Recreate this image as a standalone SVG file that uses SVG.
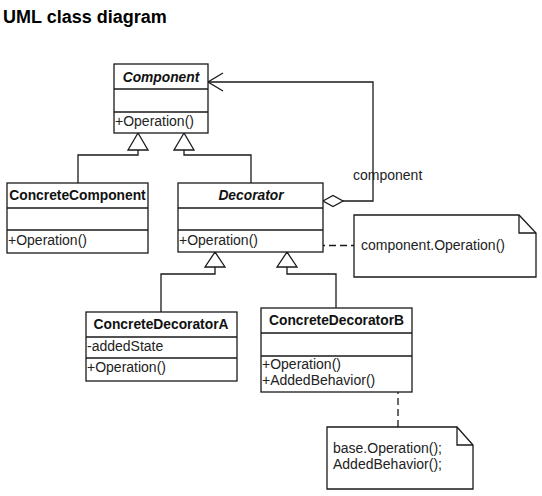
<svg xmlns="http://www.w3.org/2000/svg" width="542" height="496" viewBox="0 0 542 496">
<style>
.box{fill:#fff;stroke:#1a1a1a;stroke-width:1.3}
.ln{fill:none;stroke:#1a1a1a;stroke-width:1.3}
.dash{fill:none;stroke:#1a1a1a;stroke-width:1.3;stroke-dasharray:7 4}
.tri{fill:#fff;stroke:#1a1a1a;stroke-width:1.3}
.name{font-family:"Liberation Sans",Arial,sans-serif;font-weight:bold;font-size:13.8px;fill:#111;text-anchor:middle}
.abs{font-style:italic}
.t{font-family:"Liberation Sans",Arial,sans-serif;font-size:14px;fill:#222}
.title{font-family:"Liberation Sans",Arial,sans-serif;font-weight:bold;font-size:18px;fill:#000}
</style>
<rect width="542" height="496" fill="#fff"/>
<text class="title" x="3" y="23">UML class diagram</text>

<g id="connectors">
  <path class="ln" d="M138,150 V155 H78 V183"/>
  <path class="ln" d="M184,150 V155 H251 V183"/>
  <polygon class="tri" points="138,133 128,150 148,150"/>
  <polygon class="tri" points="184,133 174,150 194,150"/>
  <path class="ln" d="M215,267 V274 H161 V312"/>
  <path class="ln" d="M287,267 V274 H336 V308"/>
  <polygon class="tri" points="215,252 205,267 225,267"/>
  <polygon class="tri" points="287,252 277,267 297,267"/>
  <path class="ln" d="M343,201 H373 V82 H208"/>
  <path class="ln" d="M223,73 L208,82 L223,91"/>
  <polygon class="tri" points="323,201 333,195.5 343,201 333,206.5"/>
  <text class="t" x="353" y="180">component</text>
  <path class="dash" d="M307,245.5 H354" stroke-dasharray="2 6 9 4 9 4 9 4"/>
  <path class="dash" d="M398,365 V427"/>
</g>

<g id="Component">
  <rect class="box" x="114" y="64" width="94" height="69"/>
  <path class="ln" d="M114,89 H208 M114,112 H208"/>
  <text class="name abs" x="161" y="81.5">Component</text>
  <text class="t" x="115" y="126">+Operation()</text>
</g>

<g id="ConcreteComponent">
  <rect class="box" x="7" y="183" width="141" height="70"/>
  <path class="ln" d="M7,208 H148 M7,230 H148"/>
  <text class="name" x="77.5" y="200">ConcreteComponent</text>
  <text class="t" x="8" y="245">+Operation()</text>
</g>

<g id="Decorator">
  <rect class="box" x="178" y="183" width="145" height="69"/>
  <path class="ln" d="M178,208 H323 M178,230 H323"/>
  <text class="name abs" x="251" y="200">Decorator</text>
  <text class="t" x="179" y="245">+Operation()</text>
</g>

<g id="ConcreteDecoratorA">
  <rect class="box" x="86" y="312" width="151" height="69"/>
  <path class="ln" d="M86,337 H237 M86,358 H237"/>
  <text class="name" x="161" y="329">ConcreteDecoratorA</text>
  <text class="t" x="87" y="351">-addedState</text>
  <text class="t" x="87" y="372">+Operation()</text>
</g>

<g id="ConcreteDecoratorB">
  <rect class="box" x="261" y="308" width="151" height="84"/>
  <path class="ln" d="M261,333 H412 M261,356 H412"/>
  <text class="name" x="336.5" y="325">ConcreteDecoratorB</text>
  <text class="t" x="262" y="369">+Operation()</text>
  <text class="t" x="262" y="384.5">+AddedBehavior()</text>
</g>

<g id="note1">
  <path class="box" d="M354,215 H519 L536,233 V277 H354 Z"/>
  <path class="ln" d="M519,215 V233 H536"/>
  <text class="t" x="361" y="250">component.Operation()</text>
</g>

<g id="note2">
  <path class="box" d="M327,427 H457 L473,445 V489 H327 Z"/>
  <path class="ln" d="M457,427 V445 H473"/>
  <text class="t" x="333" y="453">base.Operation();</text>
  <text class="t" x="333" y="468.5">AddedBehavior();</text>
</g>
</svg>
